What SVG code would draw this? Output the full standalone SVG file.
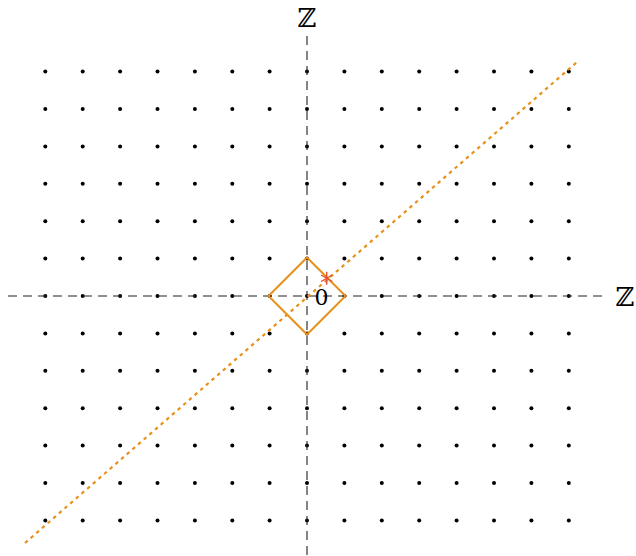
<svg xmlns="http://www.w3.org/2000/svg" width="636" height="556" viewBox="0 0 636 556">
<style>
.axis{stroke:#222;stroke-width:1.1;stroke-dasharray:9,6;fill:none}
.lbl{font-family:"DejaVu Serif","Liberation Serif",serif;fill:#000}
.dot{fill:#000}
</style>
<defs>
<circle id="d" r="2" class="dot"/>
<g id="row">
<use href="#d" x="45.3"/><use href="#d" x="82.7"/><use href="#d" x="120.1"/><use href="#d" x="157.5"/><use href="#d" x="194.9"/><use href="#d" x="232.3"/><use href="#d" x="269.6"/><use href="#d" x="307"/><use href="#d" x="344.4"/><use href="#d" x="381.8"/><use href="#d" x="419.2"/><use href="#d" x="456.6"/><use href="#d" x="494"/><use href="#d" x="531.4"/><use href="#d" x="568.8"/>
</g>
</defs>
<rect width="636" height="556" fill="#fff"/>
<g id="grid">
<use href="#row" y="71.6"/><use href="#row" y="109"/><use href="#row" y="146.4"/><use href="#row" y="183.8"/><use href="#row" y="221.2"/><use href="#row" y="258.6"/><use href="#row" y="296"/><use href="#row" y="333.4"/><use href="#row" y="370.8"/><use href="#row" y="408.2"/><use href="#row" y="445.6"/><use href="#row" y="483"/><use href="#row" y="520.4"/>
</g>
<g id="connectors">
<line class="axis" x1="8" y1="296" x2="606" y2="296"/>
<line class="axis" x1="307" y1="36" x2="307" y2="556"/>
<line x1="25" y1="543" x2="577" y2="62" stroke="#e8901a" stroke-width="2.2" stroke-dasharray="3.5,4"/>
</g>
<g id="diamond">
<polygon points="307,257.5 345.5,296 307,334.5 268.5,296" fill="none" stroke="#e8901a" stroke-width="2" stroke-linejoin="miter"/>
</g>
<g id="star" stroke="#e0502a" stroke-width="1.4">
<line x1="326.7" y1="271.8" x2="326.7" y2="284.8"/>
<line x1="321.1" y1="275" x2="332.3" y2="281.5"/>
<line x1="321.1" y1="281.5" x2="332.3" y2="275"/>
</g>
<g id="labels">
<text class="lbl" x="321.5" y="305" font-size="22" text-anchor="middle">0</text>
<text class="lbl" x="307" y="27" font-size="26" text-anchor="middle">ℤ</text>
<text class="lbl" x="625" y="306" font-size="26" text-anchor="middle">ℤ</text>
</g>
</svg>
